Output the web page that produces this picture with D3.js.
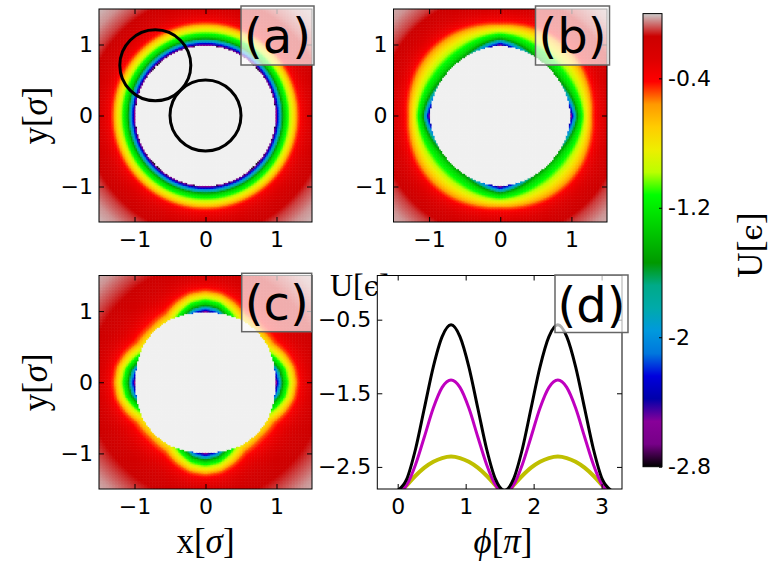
<!DOCTYPE html>
<html>
<script src="https://d3js.org/d3.v7.min.js"></script>

<head>
    <style>
        body {
            margin: 0;
            background-color: #ffffff;
        }

        svg {
            display: block;
        }
    </style>
</head>

<body>
</body>
<script>
    const width = 784,
        height = 575;

    // colour map (nipy spectral), evenly spaced over the colorbar range
    const cmapColors = ["#000000", "#770088", "#880099", "#0000aa", "#0000dd", "#0077dd", "#0099dd",
        "#00aaaa", "#00aa88", "#009900", "#00bb00", "#00dd00", "#00ff00", "#bbff00", "#eeee00",
        "#ffcc00", "#ff9900", "#ff0000", "#dd0000", "#cc0000", "#cccccc"];
    const cbDomain = [-2.8, 0];
    const cbTicks = [-0.4, -1.2, -2, -2.8];

    // potential levels and the radius where each level is reached
    const levelsU = [-2.8, -2.5, -2.2, -1.9, -1.6, -1.3, -1.0, -0.75, -0.5, -0.35, -0.2, -0.1, -0.04, 0];
    const radiiA = [0.985, 1.0, 1.025, 1.05, 1.08, 1.11, 1.185, 1.245, 1.30, 1.37, 1.55, 1.76, 1.95, 2.2];
    const radiiBAxis = [0.985, 1.0, 1.025, 1.05, 1.08, 1.11, 1.18, 1.235, 1.29, 1.37, 1.55, 1.76, 1.95, 2.2];
    const radiiBDiag = [0.80, 0.83, 0.86, 0.90, 0.94, 1.00, 1.13, 1.24, 1.34, 1.42, 1.60, 1.80, 2.0, 2.25];
    const radiiCAxis = [0.985, 1.0, 1.025, 1.05, 1.08, 1.11, 1.18, 1.235, 1.29, 1.37, 1.55, 1.76, 1.95, 2.2];
    const radiiCDiag = [0.66, 0.69, 0.72, 0.75, 0.79, 0.84, 0.93, 1.02, 1.10, 1.22, 1.45, 1.78, 2.0, 2.25];
    // how far each map has moved from its axis profile to its diagonal profile, by angle
    const blendAngles = [0, 10, 20, 30, 45];
    const blendA = [0, 0, 0, 0, 0];
    const blendB = [0, 0.25, 0.55, 0.85, 1];
    const blendC = [0, 0.1, 0.45, 0.9, 1];
    // excluded core radius on the axis and on the diagonal
    const coreA = [0.985, 0.985];
    const coreB = [0.985, 0.96];
    const coreC = [0.985, 1.02];

    // circles drawn over map (a)
    const circlesA = [
        { x: 0, y: 0, r: 0.5 },
        { x: -0.707, y: 0.707, r: 0.5 }
    ];

    // panel (d): U(phi) for three cases
    const phiValues = [0, 0.131, 0.262, 0.393, 0.524, 0.654, 0.785, 0.916, 1.047, 1.178, 1.309, 1.440, 1.571,
        1.702, 1.833, 1.963, 2.094, 2.225, 2.356, 2.487, 2.618, 2.749, 2.880, 3.011, 3.142];
    const uBlack = [-2.82, -2.67, -2.26, -1.70, -1.14, -0.73, -0.57, -0.73, -1.14, -1.70, -2.26, -2.67, -2.82,
        -2.67, -2.26, -1.70, -1.14, -0.73, -0.57, -0.73, -1.14, -1.70, -2.26, -2.67, -2.82];
    const uMagenta = [-2.85, -2.75, -2.47, -2.09, -1.70, -1.42, -1.32, -1.42, -1.70, -2.09, -2.47, -2.75, -2.85,
        -2.75, -2.47, -2.09, -1.70, -1.42, -1.32, -1.42, -1.70, -2.09, -2.47, -2.75, -2.85];
    const uYellow = [-2.88, -2.75, -2.62, -2.51, -2.43, -2.38, -2.36, -2.38, -2.43, -2.51, -2.62, -2.75, -2.88,
        -2.75, -2.62, -2.51, -2.43, -2.38, -2.36, -2.38, -2.43, -2.51, -2.62, -2.75, -2.88];
    const mapTicks = [-1, 0, 1];
    const phiTicks = [0, 1, 2, 3];
    const uTicks = [-0.5, -1.5, -2.5];

    const svg = d3.select("body").append("svg").attr("width", width).attr("height", height);
    const defs = svg.append("defs");

    const color = d3.scaleLinear()
        .domain(cmapColors.map((c, i) => cbDomain[0] + i * (cbDomain[1] - cbDomain[0]) / (cmapColors.length - 1)))
        .range(cmapColors)
        .clamp(true);

    const serif = "Liberation Serif, DejaVu Serif, serif";

    function addAxes(g, x, y, w, h, xt, yt, xfmt, yfmt) {
        g.append("g").attr("transform", `translate(0,${h})`)
            .call(d3.axisBottom(x).tickValues(xt).tickFormat(xfmt).tickSize(-5).tickPadding(9));
        g.append("g")
            .call(d3.axisTop(x).tickValues(xt).tickFormat("").tickSize(-5));
        g.append("g")
            .call(d3.axisLeft(y).tickValues(yt).tickFormat(yfmt).tickSize(-5).tickPadding(6));
        g.append("g").attr("transform", `translate(${w},0)`)
            .call(d3.axisRight(y).tickValues(yt).tickFormat("").tickSize(-5));
        g.selectAll(".domain").remove();
        g.selectAll(".tick text")
            .attr("font-family", "DejaVu Sans")
            .attr("font-size", 22)
            .attr("fill", "black");
        g.append("rect")
            .attr("width", w)
            .attr("height", h)
            .attr("fill", "none")
            .attr("stroke", "black")
            .attr("stroke-width", 1);
    }

    function labelBox(g, txt, bx, by, bw, bh) {
        g.append("rect")
            .attr("x", bx).attr("y", by)
            .attr("width", bw).attr("height", bh)
            .attr("fill", "white")
            .attr("fill-opacity", 0.68)
            .attr("stroke", "#666")
            .attr("stroke-width", 1.5);
        g.append("text")
            .attr("x", bx + bw / 2)
            .attr("y", by + 47)
            .attr("text-anchor", "middle")
            .attr("font-family", "DejaVu Sans")
            .attr("font-size", 48)
            .text(txt);
    }

    function drawMap(p) {
        const g = svg.append("g").attr("transform", `translate(${p.left},${p.top})`);
        const x = d3.scaleLinear().domain([-1.5, 1.5]).range([0, p.w]);
        const y = d3.scaleLinear().domain([-1.5, 1.5]).range([p.h, 0]);
        defs.append("clipPath").attr("id", "clip-" + p.id)
            .append("rect").attr("width", p.w).attr("height", p.h);

        const angleW = d3.scaleLinear().domain(blendAngles).range(p.blend).clamp(true);
        const n = 140,
            step = 3 / n;
        const cells = [];
        for (let i = 0; i < n; i++) {
            for (let j = 0; j < n; j++) {
                const cx = -1.5 + (i + 0.5) * step,
                    cy = -1.5 + (j + 0.5) * step;
                const r = Math.hypot(cx, cy);
                let th = (Math.abs(Math.atan2(cy, cx)) * 180 / Math.PI) % 90;
                if (th > 45) th = 90 - th;
                const w = angleW(th);
                const radii = p.axisR.map((v, k) => v + (p.diagR[k] - v) * w);
                const rCore = p.core[0] + (p.core[1] - p.core[0]) * w;
                const u = r < rCore ? null :
                    d3.scaleLinear().domain(radii).range(levelsU).clamp(true)(r);
                cells.push({ cx, cy, u });
            }
        }
        const cw = x(step) - x(0);
        g.append("g").attr("clip-path", `url(#clip-${p.id})`)
            .selectAll(".cell")
            .data(cells)
            .join("rect")
            .attr("class", "cell")
            .attr("x", d => x(d.cx - step / 2))
            .attr("y", d => y(d.cy + step / 2))
            .attr("width", cw + 0.5)
            .attr("height", cw + 0.5)
            .attr("fill", d => d.u === null ? "#f0f0f0" : color(d.u));

        if (p.circles) {
            g.selectAll(".ring")
                .data(p.circles)
                .join("circle")
                .attr("class", "ring")
                .attr("cx", d => x(d.x))
                .attr("cy", d => y(d.y))
                .attr("r", d => x(d.r) - x(0))
                .attr("fill", "none")
                .attr("stroke", "black")
                .attr("stroke-width", 3);
        }
        addAxes(g, x, y, p.w, p.h, mapTicks, mapTicks, d3.format("d"), d3.format("d"));
        labelBox(g, p.label, p.box[0], p.box[1], p.box[2], p.box[3]);
    }

    drawMap({ id: "a", label: "(a)", left: 99, top: 9, w: 213, h: 213, axisR: radiiA, diagR: radiiA,
        blend: blendA, core: coreA, circles: circlesA, box: [142, -3, 73, 59] });
    drawMap({ id: "b", label: "(b)", left: 393.5, top: 9, w: 213.5, h: 213, axisR: radiiBAxis, diagR: radiiBDiag,
        blend: blendB, core: coreB, box: [142, -3, 74, 59] });
    drawMap({ id: "c", label: "(c)", left: 99, top: 275.5, w: 213, h: 213.5, axisR: radiiCAxis, diagR: radiiCDiag,
        blend: blendC, core: coreC, box: [142.7, -2.2, 70, 58.4] });

    // axis labels
    function mathLabel(sel, a, b, c) {
        sel.append("tspan").text(a);
        sel.append("tspan").attr("font-style", "italic").text(b);
        sel.append("tspan").text(c);
    }
    function uLabel(sel) {
        sel.append("tspan").text("U[");
        sel.append("tspan").attr("font-family", "DejaVu Serif").attr("font-size", "0.85em").text("ϵ");
        sel.append("tspan").text("]");
    }
    [115.5, 382.3].forEach(cy => {
        const t = svg.append("text")
            .attr("transform", `translate(47,${cy}) rotate(-90)`)
            .attr("text-anchor", "middle")
            .attr("font-family", serif)
            .attr("font-size", 35);
        mathLabel(t, "y[", "σ", "]");
    });
    mathLabel(svg.append("text")
        .attr("x", 205.5).attr("y", 553)
        .attr("text-anchor", "middle")
        .attr("font-family", serif)
        .attr("font-size", 35), "x[", "σ", "]");

    // panel (d)
    const pd = { left: 377.3, top: 275.5, w: 244.7, h: 213.5 };
    uLabel(svg.append("text")
        .attr("x", 330).attr("y", 296)
        .attr("font-family", serif)
        .attr("font-size", 32));
    const gd = svg.append("g").attr("transform", `translate(${pd.left},${pd.top})`);
    gd.append("rect").attr("width", pd.w).attr("height", pd.h).attr("fill", "white");
    const xd = d3.scaleLinear().domain([-0.3, 3.3]).range([0, pd.w]);
    const yd = d3.scaleLinear().domain([-2.8, 0.1]).range([pd.h, 0]);
    defs.append("clipPath").attr("id", "clip-d")
        .append("rect").attr("width", pd.w).attr("height", pd.h);
    const curves = [
        { name: "yellow", values: uYellow, stroke: "#bfbf00", sw: 4 },
        { name: "magenta", values: uMagenta, stroke: "#bf00bf", sw: 3 },
        { name: "black", values: uBlack, stroke: "#000000", sw: 3 }
    ];
    const line = d3.line()
        .x((d, i) => xd(phiValues[i]))
        .y(d => yd(d))
        .curve(d3.curveMonotoneX);
    gd.append("g").attr("clip-path", "url(#clip-d)")
        .selectAll(".curve")
        .data(curves)
        .join("path")
        .attr("class", "curve")
        .attr("d", d => line(d.values))
        .attr("fill", "none")
        .attr("stroke", d => d.stroke)
        .attr("stroke-width", d => d.sw);
    addAxes(gd, xd, yd, pd.w, pd.h, phiTicks, uTicks, d3.format("d"), d3.format(".1f"));
    labelBox(gd, "(d)", 177.7, -0.5, 73, 57.5);
    const phiLabel = svg.append("text")
        .attr("x", 503).attr("y", 553)
        .attr("text-anchor", "middle")
        .attr("font-family", serif)
        .attr("font-size", 35);
    phiLabel.append("tspan").attr("font-style", "italic").text("ϕ");
    mathLabel(phiLabel, "[", "π", "]");

    // colorbar
    const cb = { left: 643, top: 13.6, w: 19, h: 453.1 };
    const grad = defs.append("linearGradient")
        .attr("id", "cbar")
        .attr("x1", 0).attr("y1", 1)
        .attr("x2", 0).attr("y2", 0);
    grad.selectAll("stop")
        .data(cmapColors)
        .join("stop")
        .attr("offset", (d, i) => i / (cmapColors.length - 1))
        .attr("stop-color", d => d);
    const gc = svg.append("g").attr("transform", `translate(${cb.left},${cb.top})`);
    const yc = d3.scaleLinear().domain(cbDomain).range([cb.h, 0]);
    gc.append("rect")
        .attr("width", cb.w).attr("height", cb.h)
        .attr("fill", "url(#cbar)")
        .attr("stroke", "black")
        .attr("stroke-width", 1);
    const cax = gc.append("g").attr("transform", `translate(${cb.w},0)`)
        .call(d3.axisRight(yc).tickValues(cbTicks).tickFormat(d => String(d)).tickSize(-3).tickPadding(6));
    cax.select(".domain").remove();
    cax.selectAll(".tick text")
        .attr("font-family", "DejaVu Sans")
        .attr("font-size", 22)
        .attr("fill", "black");
    uLabel(svg.append("text")
        .attr("transform", "translate(762,245) rotate(-90)")
        .attr("text-anchor", "middle")
        .attr("font-family", serif)
        .attr("font-size", 35));
</script>

</html>
